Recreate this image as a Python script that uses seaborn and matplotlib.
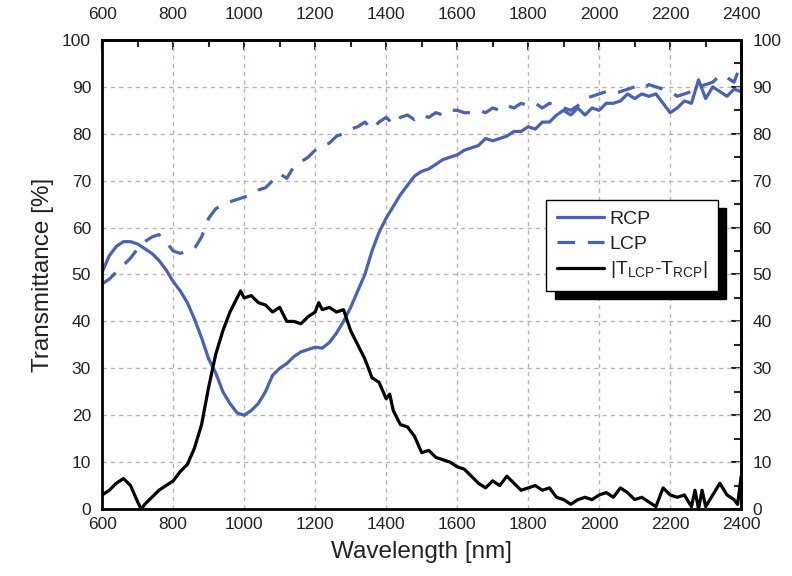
#Importing Libraries and default settings
import matplotlib
matplotlib.use("Agg")
import matplotlib.pyplot as plt
import seaborn as sns
from matplotlib.ticker import MultipleLocator

sns.set_style("white")
plt.rcParams["font.family"] = ["Liberation Sans", "DejaVu Sans"]
plt.rcParams["mathtext.fontset"] = "custom"
plt.rcParams["mathtext.rm"] = "Liberation Sans"
plt.rcParams["mathtext.it"] = "Liberation Sans:italic"

#Data
wl = [600, 620, 640, 660, 680, 700, 720, 740, 760, 780, 800, 820, 840, 860, 880,
      900, 920, 940, 960, 980, 1000, 1020, 1040, 1060, 1080, 1100, 1120, 1140, 1160,
      1180, 1200, 1220, 1240, 1260, 1280, 1300, 1320, 1340, 1360, 1380, 1400, 1420,
      1440, 1460, 1480, 1500, 1520, 1540, 1560, 1580, 1600, 1620, 1640, 1660, 1680,
      1700, 1720, 1740, 1760, 1780, 1800, 1820, 1840, 1860, 1880, 1900, 1920, 1940,
      1960, 1980, 2000, 2020, 2040, 2060, 2080, 2100, 2120, 2140, 2160, 2180, 2200,
      2220, 2240, 2260, 2280, 2300, 2320, 2340, 2360, 2380, 2400]

rcp = [50.5, 54, 56, 57, 57, 56.5, 55.5, 54.5, 53, 51, 48.5, 46.5, 44, 40.5, 36.5,
       32, 29, 25, 22.5, 20.5, 20, 21, 22.5, 25, 28.5, 30, 31, 32.5, 33.5,
       34, 34.5, 34.3, 35.5, 37.5, 40, 43, 46.5, 50, 55, 59, 62, 64.5,
       67, 69, 71, 72, 72.5, 73.5, 74.5, 75, 75.5, 76.5, 77, 77.5, 79,
       78.5, 79, 79.5, 80.5, 80.5, 81.5, 81, 82.5, 82.5, 84, 85, 84, 85.5,
       84, 85.5, 85, 86.5, 86.5, 87, 88.5, 87.5, 88.5, 88, 88.5, 86.5, 84.5,
       85.5, 87, 86.5, 91.5, 87.5, 90, 89, 88, 89.5, 89]

lcp = [48, 49, 50.5, 52, 53.5, 55.5, 57, 58, 58.5, 57, 55, 54.5, 55, 55.5, 58,
       62, 64, 65, 65.5, 66, 66.5, 67, 68, 68.5, 70, 71.5, 70.5, 73, 74,
       75, 76.5, 77.5, 78, 79.5, 80, 81, 81.5, 82.5, 81, 82.5, 83.5, 82,
       83.5, 84, 83, 84, 83.5, 84.5, 84, 85, 85, 84.5, 84.5, 85, 84.5,
       85.5, 85, 86, 85.5, 86.5, 86, 86.5, 85.5, 86.5, 86, 85.5, 85, 86,
       87.5, 88, 88.5, 89, 88.5, 89, 89.5, 90, 89.5, 90.5, 90, 89.5, 89,
       88, 88.5, 89, 90, 90.5, 91, 92.5, 92, 91, 95]

wl_diff = [600, 620, 640, 660, 680, 700, 710, 720, 740, 760, 780, 800, 820, 840, 860,
           880, 900, 920, 940, 960, 980, 990, 1000, 1020, 1040, 1060, 1080, 1100,
           1120, 1140, 1160, 1180, 1200, 1210, 1220, 1240, 1260, 1280, 1300, 1320,
           1340, 1360, 1380, 1400, 1410, 1420, 1440, 1460, 1480, 1500, 1520, 1540,
           1560, 1580, 1600, 1620, 1640, 1660, 1680, 1700, 1720, 1740, 1760, 1780,
           1800, 1820, 1840, 1860, 1880, 1900, 1920, 1940, 1960, 1980, 2000, 2020,
           2040, 2060, 2080, 2100, 2120, 2140, 2160, 2180, 2200, 2220, 2240, 2260,
           2270, 2280, 2290, 2300, 2320, 2340, 2360, 2380, 2390, 2400]

diff = [3, 4, 5.5, 6.5, 5, 1.5, 0, 1, 2.5, 4, 5, 6, 8, 9.5, 13,
        18, 26, 33, 38, 42, 45, 46.5, 45, 45.5, 44, 43.5, 42, 43,
        40, 40, 39.5, 41, 42, 44, 42.5, 43, 42, 42.5, 38, 35,
        32, 28, 27, 23.5, 24.5, 21, 18, 17.5, 15.5, 12, 12.5, 11,
        10.5, 10, 9, 8.5, 7, 5.5, 4.5, 6, 5, 7, 5.5, 4,
        4.5, 5, 4, 4.5, 2.5, 2, 1, 2, 2.5, 2, 3, 3.5,
        2.5, 4.5, 3.5, 2, 2.5, 1.5, 0.5, 4.5, 3, 2.5, 3, 0.5,
        4, 0, 4, 0.5, 3, 5.5, 3, 2, 1, 7]

blue = "#4762b8"
text_color = "#222222"

#Plot
fig = plt.figure(figsize=(7.92, 5.76), dpi=100)
ax = fig.add_axes([0.129, 0.1163, 0.8068, 0.8143])

sns.lineplot(x=wl, y=rcp, ax=ax, color=blue, linewidth=2.3, label="RCP")
sns.lineplot(x=wl, y=lcp, ax=ax, color=blue, linewidth=2.3,
             linestyle=(0, (5.5, 4)), label="LCP")
sns.lineplot(x=wl_diff, y=diff, ax=ax, color="black", linewidth=2.3,
             label=r"|T$_{\rm LCP}$-T$_{\rm RCP}$|")

ax.set_xlim(600, 2400)
ax.set_ylim(0, 100)
ax.xaxis.set_major_locator(MultipleLocator(200))
ax.xaxis.set_minor_locator(MultipleLocator(100))
ax.yaxis.set_major_locator(MultipleLocator(10))
ax.yaxis.set_minor_locator(MultipleLocator(5))
ax.grid(True, which="major", color="#c4b0ac", linestyle=(0, (3, 3)), linewidth=1)

for s in ax.spines.values():
    s.set_linewidth(2)
    s.set_color("black")

ax.tick_params(which="major", direction="in", length=7, width=1.5,
               labelsize=12.5, labelcolor=text_color)
ax.tick_params(which="minor", direction="in", length=5, width=1.5)
ax.tick_params(axis="x", pad=6)
ax.tick_params(axis="y", pad=8)

top = ax.secondary_xaxis("top")
top.xaxis.set_major_locator(MultipleLocator(200))
top.xaxis.set_minor_locator(MultipleLocator(100))
top.tick_params(which="major", direction="in", length=7, width=1.5,
                labelsize=12.5, labelcolor=text_color, pad=13)
top.tick_params(which="minor", direction="in", length=5, width=1.5)

right = ax.secondary_yaxis("right")
right.yaxis.set_major_locator(MultipleLocator(10))
right.yaxis.set_minor_locator(MultipleLocator(5))
right.tick_params(which="major", direction="in", length=7, width=1.5,
                  labelsize=12.5, labelcolor=text_color, pad=8)
right.tick_params(which="minor", direction="in", length=5, width=1.5)
for sec in (top, right):
    for s in sec.spines.values():
        s.set_linewidth(2)

ax.set_xlabel("Wavelength [nm]", fontsize=17.5, color=text_color, labelpad=6)
ax.set_ylabel("Transmittance [%]", fontsize=17.5, color=text_color, labelpad=6)

leg = ax.legend(loc="upper left", bbox_to_anchor=(0.68, 0.68), fancybox=False,
                edgecolor="black", framealpha=1, fontsize=14,
                shadow={"ox": 6, "oy": -6, "shade": 1.0, "alpha": 1},
                handlelength=2.4, handletextpad=0.3, borderpad=0.55,
                labelspacing=0.35)
leg.get_frame().set_linewidth(1)
for t in leg.get_texts():
    t.set_color(text_color)

fig.savefig("out.png", dpi=100)
